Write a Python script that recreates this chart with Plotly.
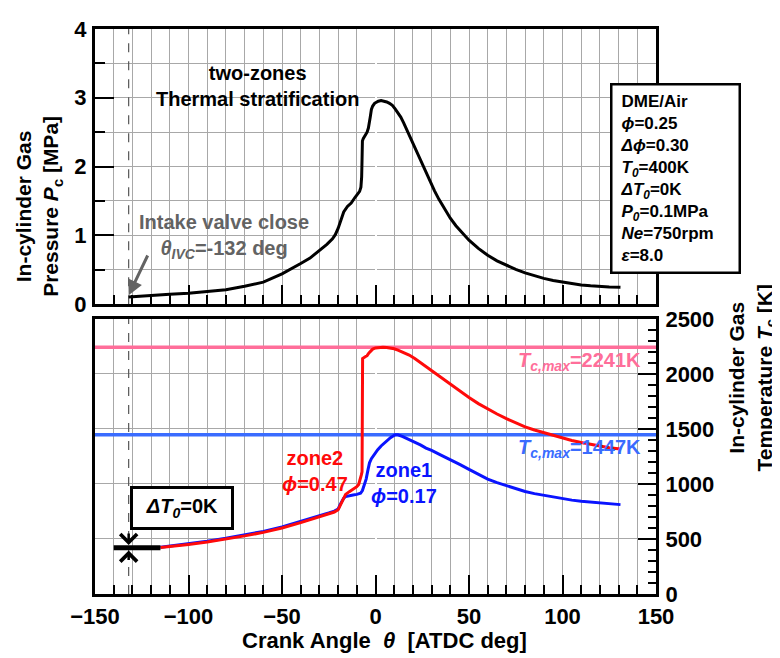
import plotly.graph_objects as go

FONT = "Liberation Sans, Arial, sans-serif"

# ---------------- data ----------------
theta_p = [-132, -125, -120, -110, -100, -90, -80, -70, -60, -50, -45, -40, -35, -30, -26, -23,
           -21.5, -20, -19, -18, -17, -15, -13, -11, -9.5, -8.5, -7.8, -7.4, -7.2, -7.0, -6.5,
           -5.5, -4.5, -3.8, -3.3, -2.8, -2.2, -1.5, -0.5, 0.5, 1.5, 3, 4.5, 6, 7.5, 9, 10.5,
           12, 13.5, 15, 17, 19, 21, 23.5, 26, 29, 31.5, 34, 37, 40, 43, 46, 50, 55, 60, 65,
           70, 75, 80, 85, 90, 95, 100, 105, 110, 115, 120, 125, 131]
p_mpa = [0.105, 0.12, 0.13, 0.145, 0.16, 0.18, 0.21, 0.26, 0.32, 0.44, 0.51, 0.59, 0.67, 0.78,
         0.87, 0.95, 1.01, 1.10, 1.17, 1.26, 1.34, 1.42, 1.47, 1.55, 1.60, 1.64, 1.70, 1.85,
         2.10, 2.37, 2.41, 2.45, 2.50, 2.56, 2.62, 2.72, 2.83, 2.88, 2.92, 2.94, 2.95, 2.96,
         2.955, 2.94, 2.92, 2.89, 2.84, 2.78, 2.72, 2.64, 2.52, 2.40, 2.28, 2.13, 1.97, 1.79,
         1.65, 1.52, 1.38, 1.25, 1.14, 1.05, 0.93, 0.81, 0.71, 0.63, 0.565, 0.505, 0.455,
         0.41, 0.375, 0.345, 0.32, 0.30, 0.28, 0.267, 0.256, 0.25, 0.245]

theta_zone2 = [-115, -110, -100, -90, -80, -70, -60, -50, -40, -30, -25, -22, -20, -19, -18,
               -17, -16, -14, -12, -10, -9, -8.3, -7.6, -7.2, -6.9, -5.5, -4.5, -3.5, -2.5,
               -1.5, 0, 2, 4, 6, 8, 10, 12, 15, 18, 21, 25, 29.5, 35, 40, 45, 50, 55, 60, 65,
               70, 75, 80, 85, 90, 95, 100, 105, 110, 115, 120, 125, 131]
t_zone2 = [422, 430, 450, 472, 498, 528, 560, 600, 648, 703, 728, 745, 765, 800, 845, 885,
           905, 930, 950, 975, 995, 1030, 1080, 1110, 2140, 2155, 2165, 2190, 2210, 2225,
           2236, 2241, 2241, 2240, 2236, 2228, 2215, 2195, 2171, 2140, 2090, 2037, 1970,
           1904, 1840, 1785, 1730, 1681, 1635, 1593, 1555, 1519, 1490, 1465, 1440, 1415,
           1395, 1376, 1358, 1341, 1328, 1317]

theta_zone1 = [-115, -110, -100, -90, -80, -70, -60, -50, -40, -30, -25, -22, -20, -19, -18,
               -17, -16, -14, -12, -10, -8, -7, -6, -5, -4, -3.2, -2.2, -1.4, 0, 1.2, 3, 5.7,
               8, 10.5, 12, 14.6, 17, 20, 24, 27, 30, 35, 40, 45, 50, 55, 60, 65, 70, 75, 80,
               85, 90, 95, 100, 105, 110, 115, 120, 125, 131]
t_zone1 = [425, 435, 456, 479, 506, 536, 569, 609, 657, 711, 736, 753, 772, 810, 845, 870,
           885, 895, 900, 905, 915, 940, 990, 1044, 1130, 1192, 1230, 1251, 1285, 1311,
           1345, 1385, 1420, 1447, 1446, 1430, 1412, 1390, 1355, 1326, 1305, 1262, 1222,
           1177, 1133, 1088, 1044, 1012, 985, 957, 931, 912, 896, 880, 866, 853, 842, 834,
           827, 820, 812]

tmax_theta = [-150, 150]
tc_max = [2241, 1447]
theta_ivc = -132
p_range = [0, 4]
t_range = [0, 2500]
dT0_bar_theta = [-140, -115]
dT0_level = 420

# ---------------- figure ----------------
fig = go.Figure()

# dashed IVC line (both panels)
fig.add_trace(go.Scatter(x=[theta_ivc] * 2, y=p_range, mode="lines", xaxis="x", yaxis="y",
                         line=dict(color="#555555", width=1.2, dash="dash"), showlegend=False,
                         cliponaxis=False))
fig.add_trace(go.Scatter(x=[theta_ivc] * 2, y=t_range, mode="lines", xaxis="x2", yaxis="y2",
                         line=dict(color="#555555", width=1.2, dash="dash"), showlegend=False,
                         cliponaxis=False))

fig.add_trace(go.Scatter(x=theta_p, y=p_mpa, mode="lines", xaxis="x", yaxis="y",
                         line=dict(color="black", width=3), showlegend=False))
fig.add_trace(go.Scatter(x=tmax_theta, y=[tc_max[0]] * 2, mode="lines", xaxis="x2", yaxis="y2",
                         line=dict(color="#ff6e9a", width=3.5), showlegend=False))
fig.add_trace(go.Scatter(x=tmax_theta, y=[tc_max[1]] * 2, mode="lines", xaxis="x2", yaxis="y2",
                         line=dict(color="#3a6cff", width=3.5), showlegend=False))
fig.add_trace(go.Scatter(x=theta_zone1, y=t_zone1, mode="lines", xaxis="x2", yaxis="y2",
                         line=dict(color="#0a14ff", width=3), showlegend=False))
fig.add_trace(go.Scatter(x=theta_zone2, y=t_zone2, mode="lines", xaxis="x2", yaxis="y2",
                         line=dict(color="#ff0a0a", width=3), showlegend=False))
# Delta T0 bar
fig.add_trace(go.Scatter(x=dT0_bar_theta, y=[dT0_level] * 2, mode="lines", xaxis="x2", yaxis="y2",
                         line=dict(color="black", width=5), showlegend=False))

GRID = "#a8a8a8"
tickfont = dict(family=FONT, size=22, color="black", weight="bold")
minor_x = dict(dtick=10, ticks="inside", ticklen=9, tickwidth=2, tickcolor="black",
               showgrid=True, gridcolor=GRID, gridwidth=1)

# the page body adds an 8px margin, so the figure is laid out 8px smaller
fig.update_layout(
    width=772, height=650,
    margin=dict(l=87, r=124, t=9, b=64),
    plot_bgcolor="white", paper_bgcolor="white",
    font=dict(family=FONT, color="black"),
    xaxis=dict(domain=[0, 1], anchor="y", range=[-150, 150], showline=True, linewidth=3,
               linecolor="black", mirror=True, ticks="inside", dtick=50, ticklen=19,
               tickwidth=2, tickcolor="black", showgrid=True, gridcolor=GRID, gridwidth=1,
               showticklabels=False, minor=minor_x),
    yaxis=dict(domain=[0.513, 1], anchor="x", range=p_range, dtick=1,
               showline=True, linewidth=3, linecolor="black", mirror=True,
               ticks="inside", ticklen=19, tickwidth=2, tickcolor="black",
               tickfont=tickfont, ticklabelstandoff=1,
               showgrid=True, gridcolor=GRID, gridwidth=1,
               minor=dict(dtick=0.5, ticks="inside", ticklen=10, tickwidth=2,
                          tickcolor="black", showgrid=True, gridcolor=GRID, gridwidth=1)),
    xaxis2=dict(domain=[0, 1], anchor="y2", range=[-150, 150], showline=True, linewidth=3,
                linecolor="black", mirror=True, ticks="inside", dtick=50, ticklen=19,
                tickwidth=2, tickcolor="black", showgrid=True, gridcolor=GRID, gridwidth=1,
                tickfont=tickfont, ticklabelstandoff=1, minor=minor_x),
    yaxis2=dict(domain=[0, 0.487], anchor="x2", side="right", range=t_range, dtick=500,
                showline=True, linewidth=3, linecolor="black", mirror=True,
                ticks="inside", ticklen=18, tickwidth=2, tickcolor="black",
                tickfont=tickfont, showgrid=True, gridcolor=GRID, ticklabelstandoff=2,
                minor=dict(dtick=100, ticks="inside", ticklen=8, tickwidth=2,
                           tickcolor="black", showgrid=False)),
)

# DME/Air conditions box
fig.add_annotation(xref="paper", yref="paper", x=0.918, y=0.7356, xanchor="left", yanchor="middle",
                   align="left", valign="middle", showarrow=False, width=110, height=170,
                   borderpad=8, bordercolor="black", borderwidth=2.5, bgcolor="white",
                   text="DME/Air<br><i>ϕ</i>=0.25<br><i>Δϕ</i>=0.30<br><i>T</i><sub><i>0</i></sub>=400K"
                        "<br><i>ΔT</i><sub><i>0</i></sub>=0K<br><i>P</i><sub><i>0</i></sub>=0.1MPa"
                        "<br><i>Ne</i>=750rpm<br><i>ε</i>=8.0",
                   font=dict(family=FONT, size=17, color="black", weight="bold"))

# top panel texts
fig.add_annotation(xref="x", yref="y", x=-63, y=3.17, showarrow=False,
                   xanchor="center", yanchor="middle",
                   text="two-zones<br>Thermal stratification",
                   font=dict(family=FONT, size=20, color="black", weight="bold"))
fig.add_annotation(xref="x", yref="y", x=-81, y=0.99, showarrow=False,
                   xanchor="center", yanchor="middle",
                   text="Intake valve close<br><i>θ</i><sub><i>IVC</i></sub>=-132 deg",
                   font=dict(family=FONT, size=20, color="#636363", weight="bold"))
fig.add_annotation(xref="x", yref="y", x=theta_ivc, y=0.13, ax=22, ay=-46,
                   showarrow=True, arrowhead=2, arrowsize=1,
                   arrowwidth=3, arrowcolor="#636363", text=" ")

# bottom panel texts
fig.add_annotation(xref="x2", yref="y2", x=-32.5, y=1117, showarrow=False,
                   xanchor="center", yanchor="middle",
                   text="zone2<br><i>ϕ</i>=0.47",
                   font=dict(family=FONT, size=20, color="#ff0a0a", weight="bold"))
fig.add_annotation(xref="x2", yref="y2", x=15, y=1005, showarrow=False,
                   xanchor="center", yanchor="middle",
                   text="zone1<br><i>ϕ</i>=0.17",
                   font=dict(family=FONT, size=20, color="#0a14ff", weight="bold"))
fig.add_annotation(xref="x2", yref="y2", x=109, y=2108, showarrow=False,
                   xanchor="center", yanchor="middle",
                   text="<i>T</i><sub><i>c,max</i></sub>=2241K",
                   font=dict(family=FONT, size=20, color="#ff6e9a", weight="bold"))
fig.add_annotation(xref="x2", yref="y2", x=109, y=1326, showarrow=False,
                   xanchor="center", yanchor="middle",
                   text="<i>T</i><sub><i>c,max</i></sub>=1447K",
                   font=dict(family=FONT, size=20, color="#3a6cff", weight="bold"))

# Delta T0 label box and arrows
fig.add_annotation(xref="x2", yref="y2", x=-103.5, y=784, showarrow=False,
                   xanchor="center", yanchor="middle", width=90, height=30, borderpad=4,
                   bordercolor="black", borderwidth=3, bgcolor="white",
                   text="<i>ΔT</i><sub><i>0</i></sub>=0K",
                   font=dict(family=FONT, size=20, color="black", weight="bold"))
fig.add_annotation(xref="x2", yref="y2", x=theta_ivc, y=dT0_level + 25, ax=0, ay=-20,
                   showarrow=True, arrowhead=4, arrowsize=1.3,
                   arrowwidth=2.5, arrowcolor="black", text=" ")
fig.add_annotation(xref="x2", yref="y2", x=theta_ivc, y=dT0_level - 25, ax=0, ay=18,
                   showarrow=True, arrowhead=4, arrowsize=1.3,
                   arrowwidth=2.5, arrowcolor="black", text=" ")

# axis titles
fig.add_annotation(xref="paper", yref="paper", x=-0.099, y=0.686, textangle=-90, showarrow=False,
                   xanchor="center", yanchor="middle",
                   text="In-cylinder Gas<br>Pressure <i>P</i><sub>c</sub> [MPa]",
                   font=dict(family=FONT, size=21, color="black", weight="bold"))
fig.add_annotation(xref="paper", yref="paper", x=1.172, y=0.384, textangle=-90, showarrow=False,
                   xanchor="center", yanchor="middle",
                   text="In-cylinder Gas<br>Temperature <i>T</i><sub>c</sub> [K]",
                   font=dict(family=FONT, size=21, color="black", weight="bold"))
fig.add_annotation(xref="paper", yref="paper", x=0.516, y=-0.083, showarrow=False,
                   xanchor="center", yanchor="middle",
                   text="Crank Angle  <i>θ</i>  [ATDC deg]",
                   font=dict(family=FONT, size=22, color="black", weight="bold"))

fig.write_html("out.html")
